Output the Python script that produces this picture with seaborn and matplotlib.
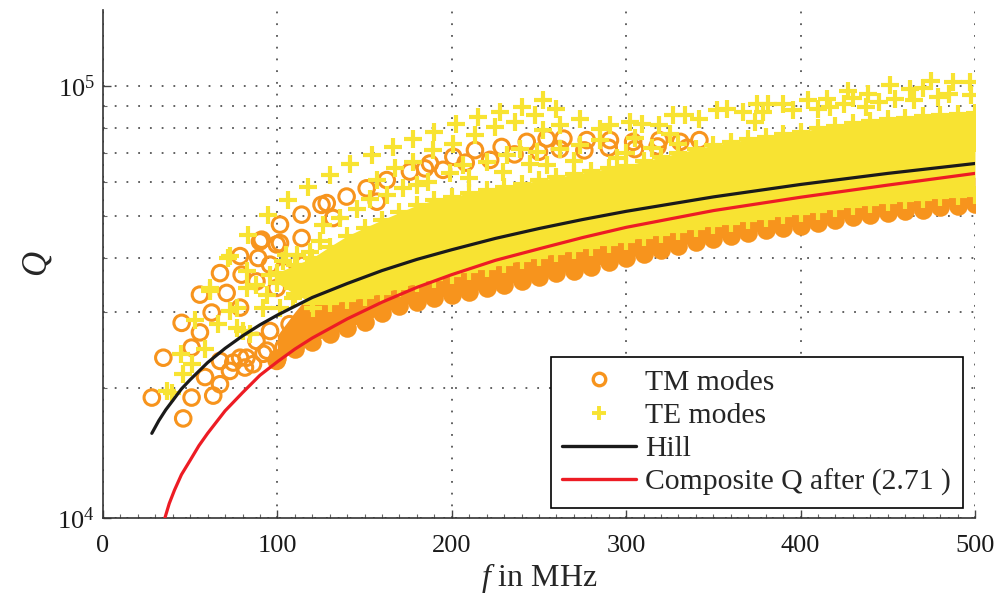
import numpy as np
import pandas as pd
import matplotlib
matplotlib.use("Agg")
import matplotlib.pyplot as plt
import seaborn as sns
from matplotlib.lines import Line2D
from matplotlib.ticker import (LogLocator, MultipleLocator, LogFormatterMathtext,
                               NullFormatter)

# ---------------------------------------------------------------------------
# Reference curves: frequency in MHz, quality factor Q
# ---------------------------------------------------------------------------
hill_f = [28, 32, 36, 40, 45, 50, 60, 70, 80, 90, 100, 120, 140, 160, 180,
          200, 225, 250, 275, 300, 350, 400, 450, 500]
hill_q = [15700, 16800, 17800, 18700, 19900, 20900, 22900, 24700, 26400,
          28000, 29500, 32400, 34900, 37400, 39700, 41800, 44400, 46800,
          49100, 51300, 55400, 59200, 62800, 66200]

comp_f = [35.5, 38, 41, 45, 50, 55, 60, 70, 80, 90, 100, 110, 120, 140, 160,
          180, 200, 225, 250, 275, 300, 350, 400, 450, 500]
comp_q = [10000, 10800, 11600, 12600, 13600, 14700, 15700, 17700, 19500,
          21400, 23000, 24600, 26100, 28900, 31600, 34200, 36600, 39500,
          42000, 44600, 47100, 51500, 55300, 59000, 62800]

# ---------------------------------------------------------------------------
# Mode clouds (Q in thousands)
# ---------------------------------------------------------------------------
# TM modes: the packed band (lowest row of modes and top of the packed region)
tm_band_f = [100, 110, 120, 130, 140, 150, 160, 170, 180, 190, 200, 210, 220,
             230, 240, 250, 260, 270, 280, 290, 300, 310, 320, 330, 340, 350,
             360, 370, 380, 390, 400, 410, 420, 430, 440, 450, 460, 470, 480,
             490, 500]
tm_lo_k = [23.5, 24.6, 25.5, 26.6, 27.6, 28.5, 29.8, 30.9, 31.7, 32.3, 32.9,
           33.4, 34.0, 34.7, 35.4, 36.2, 36.9, 37.4, 38.2, 39.1, 39.9, 40.9,
           41.8, 42.7, 43.5, 44.2, 44.9, 45.8, 46.4, 47.0, 47.5, 48.3, 49.0,
           49.7, 50.2, 50.8, 51.3, 51.8, 52.4, 52.9, 53.3]
tm_hi_k = [26.5, 30.0, 33.5, 34.5, 35.0, 35.5, 36.5, 37.5, 38.5, 39.0, 40.0,
           41.0, 41.5, 42.5, 43.0, 44.0, 45.0, 45.5, 46.5, 47.0, 48.0, 49.0,
           49.5, 50.5, 51.0, 52.0, 53.0, 53.5, 54.0, 55.0, 55.5, 56.0, 57.0,
           57.5, 58.0, 59.0, 59.5, 60.0, 60.5, 61.0, 61.5]

# TM modes: individual modes outside the packed band
tm_f = [28, 34.6, 46, 45.1, 50.8, 50.8, 55.6, 55.6, 62.3, 67.1, 70.9, 58.5,
        63.2, 67.1, 67.1, 78.6, 79.5, 90, 89, 99.6, 72.8, 78.6, 81.4, 86, 94,
        74.7, 82.3, 78.6, 88, 99.6, 95.8, 88, 95.8, 107, 111, 103.4, 99.6, 92,
        103.4, 115, 91, 101.5, 101.5, 113.9, 113.9, 125.3, 128.3, 132, 139.7,
        151.2, 162.7, 157, 176, 184.6, 187.5, 200.9, 213.3, 228.6, 243, 254.4,
        264, 277.4, 290.7, 304, 319, 331, 342,
        195, 208, 222, 236, 250, 262, 276, 290, 305, 318, 335,
        500, 500, 500]
tm_q_k = [19.0, 23.5, 17.0, 28.3, 19.0, 24.8, 26.9, 32.9, 29.9, 36.9, 33.2,
          21.2, 19.2, 20.4, 23.1, 40.4, 36.6, 43.7, 40.0, 43.0, 21.9, 23.5,
          22.3, 22.7, 24.4, 22.9, 23.5, 30.7, 35.3, 34.1, 38.6, 25.7, 27.1,
          28.1, 25.3, 24.8, 23.1, 24.0, 37.3, 38.6, 44.1, 47.8, 43.3, 50.4,
          44.5, 53.1, 53.6, 49.5, 55.5, 58.0, 60.6, 54.0, 63.4, 64.5, 66.2,
          68.6, 71.1, 72.3, 74.3, 75.6, 75.6, 75.0, 75.0, 74.3, 75.0, 74.3,
          75.0,
          64.0, 66.5, 67.5, 69.5, 70.5, 71.5, 71.0, 72.0, 71.5, 72.5, 72.0,
          57.0, 61.0, 65.0]

# TE modes: the packed band (lowest and highest rows of the packed region)
te_band_f = [100, 110, 120, 130, 140, 150, 160, 170, 180, 190, 200, 210, 220,
             230, 240, 250, 260, 270, 280, 290, 300, 310, 320, 330, 340, 350,
             360, 370, 380, 390, 400, 410, 420, 430, 440, 450, 460, 470, 480,
             490, 500]
te_lo_k = [35.0, 33.0, 31.5, 31.4, 31.9, 32.4, 33.2, 34.1, 35.0, 35.8, 36.6,
           37.3, 38.0, 38.7, 39.5, 40.3, 41.0, 41.7, 42.5, 43.2, 43.9, 44.7,
           45.4, 46.2, 46.9, 47.6, 48.3, 49.0, 49.6, 50.2, 50.8, 51.5, 52.2,
           52.8, 53.3, 53.9, 54.4, 54.8, 55.3, 55.7, 56.0]
te_hi_k = [37.0, 38.5, 40.0, 42.5, 45.0, 47.0, 49.0, 51.0, 53.0, 54.5, 55.5,
           56.5, 57.5, 58.5, 59.5, 60.5, 61.5, 62.5, 63.5, 64.5, 65.5, 67.0,
           68.5, 70.0, 71.5, 73.0, 74.2, 75.3, 76.4, 77.5, 78.5, 79.8, 81.0,
           82.0, 83.0, 83.8, 84.5, 85.2, 85.8, 86.3, 86.8]

# TE modes: individual modes outside the packed band
te_f = [39.3, 46, 45, 52.8, 58.5, 61.4, 66, 72.8, 50.8, 72.8, 76.6, 82.4, 88,
        95.8, 103.4, 111, 115, 92, 80.4, 109, 105, 118.7, 82.4, 93.8, 105,
        116.7, 113, 124.4, 101.5, 120.6, 130, 76.6, 84.3, 36.7, 71.9, 61.4,
        83.3, 94.8, 106.3, 117.7, 130, 141.6, 154, 166.5, 178, 178, 157, 167.4,
        126, 136, 145.5, 153, 162.7, 172, 180, 186.6, 199, 206.6, 220, 231.4,
        239, 248.6, 262, 273.5, 285, 210, 229.5, 254.4, 300, 315, 330, 295,
        270, 245, 305, 325,
        190, 189, 202.7, 200.9, 215, 213.3, 227.6, 224.8, 240, 236, 252.5,
        247.7, 260, 262, 273.5, 252.5, 285, 290.7,
        302, 309, 319, 327, 333.7, 342, 351.8, 357.6, 367, 374.8, 381.5,
        378.6, 390, 395.8, 374,
        404.4, 415, 417, 427.4, 438.9, 437.8, 451.3, 454, 462.7, 475, 479,
        487.6, 497, 498, 410, 425, 445, 465, 485, 430, 470,
        500, 500]
te_q_k = [19.5, 21.5, 24.0, 28.8, 24.6, 33.5, 28.1, 40.4, 22.7, 30.1, 27.6,
          34.1, 34.7, 36.6, 39.3, 40.7, 36.6, 30.7, 27.1, 32.3, 35.3, 41.4,
          37.3, 32.9, 40.7, 38.6, 34.1, 43.7, 30.7, 30.7, 36.0, 30.7, 26.6,
          19.7, 40.0, 34.1,
          45.3, 50.4, 54.5, 58.5, 62.2, 66.2, 69.2, 72.3, 75.6, 66.8, 60.6,
          64.5,
          47.8, 49.5, 52.0, 54.9, 56.0, 58.0, 59.0, 60.0, 62.8, 65.6, 66.8,
          69.2, 71.7, 70.4, 71.7, 73.0, 75.0, 61.2, 63.4, 65.6, 70.0, 72.0,
          73.5, 68.0, 67.0, 66.0, 76.0, 77.5,
          78.3, 71.1, 81.9, 73.6, 84.8, 77.0, 87.1, 80.5, 89.5, 82.6, 92.7,
          85.6, 88.7, 81.2, 84.1, 79.0, 79.7, 81.2,
          82.6, 81.9, 81.2, 85.6, 85.6, 84.1, 87.9, 88.7, 87.1, 90.9, 90.9,
          87.1, 91.0, 87.9, 82.6,
          92.7, 93.5, 89.5, 97.7, 96.0, 89.5, 100.4, 93.5, 98.6, 103.0, 94.4,
          102.0, 102.0, 95.2, 88.5, 91.0, 92.0, 93.0, 96.0, 94.0, 99.0,
          74.0, 80.0]

ORANGE = "#F7941D"
YELLOW = "#F8E332"
RED = "#ED1C24"
BLACK = "#1A1A1A"

# ---------------------------------------------------------------------------
sns.set_style("ticks")
plt.rcParams["font.family"] = ["Liberation Serif", "DejaVu Serif"]
plt.rcParams["mathtext.fontset"] = "custom"
plt.rcParams["mathtext.rm"] = "Liberation Serif"
plt.rcParams["mathtext.it"] = "Liberation Serif:italic"

K = 1000.0
tm_ring_df = pd.DataFrame({"f": tm_f, "Q": [q * K for q in tm_q_k]})
tm_row_df = pd.DataFrame({"f": tm_band_f, "Q": [q * K for q in tm_lo_k]})
te_df = pd.DataFrame({
    "f": te_f + te_band_f + te_band_f,
    "Q": [q * K for q in te_q_k + te_lo_k + te_hi_k],
})

fig = plt.figure(figsize=(9.97, 5.96), dpi=100)
ax = fig.add_axes([0.1033, 0.131, 0.8746, 0.852])
ax.set_yscale("log")

CIRCLE_S = 125
PLUS_S = 165

# TM modes: packed band (overlapping rings read as solid), then single rings
ax.fill_between(tm_band_f, [q * K for q in tm_lo_k], [q * K for q in tm_hi_k],
                color=ORANGE, lw=0, zorder=2.0)
sns.scatterplot(data=tm_row_df, x="f", y="Q", marker="o", s=CIRCLE_S,
                color=ORANGE, edgecolor=ORANGE, linewidth=2.2, ax=ax,
                zorder=2.05, legend=False)
sns.scatterplot(data=tm_ring_df, x="f", y="Q", marker="o", s=CIRCLE_S,
                facecolor="none", edgecolor=ORANGE, color=ORANGE,
                linewidth=2.2, ax=ax, zorder=2.1, legend=False)

# TE modes drawn over the TM modes
ax.fill_between(te_band_f, [q * K for q in te_lo_k], [q * K for q in te_hi_k],
                color=YELLOW, lw=0, zorder=3.0)
sns.scatterplot(data=te_df, x="f", y="Q", marker="+", s=PLUS_S, color=YELLOW,
                linewidth=3.0, ax=ax, zorder=3.1, legend=False)

# Analytical curves
sns.lineplot(x=hill_f, y=hill_q, color=BLACK, lw=2.3, ax=ax, zorder=4)
sns.lineplot(x=comp_f, y=comp_q, color=RED, lw=2.3, ax=ax, zorder=4)

# Axes
ax.set_xlim(0, 500)
ax.set_ylim(1e4, 1.5e5)
ax.set_xticks([0, 100, 200, 300, 400, 500])
ax.xaxis.set_minor_locator(MultipleLocator(10))
ax.yaxis.set_major_locator(LogLocator(base=10))
ax.yaxis.set_major_formatter(LogFormatterMathtext())
ax.yaxis.set_minor_locator(LogLocator(base=10, subs=np.arange(2, 10)))
ax.yaxis.set_minor_formatter(NullFormatter())

ax.tick_params(which="major", direction="in", length=6, width=1.0,
               color="#444444", labelsize=19, labelcolor="#1a1a1a")
ax.tick_params(axis="x", which="major", pad=12)
ax.tick_params(axis="y", which="major", pad=6)
ax.tick_params(which="minor", direction="in", length=3, width=0.8,
               color="#666666")

grid_kw = dict(ls=(0, (1, 5.5)), lw=1.3, color="#555555")
ax.grid(True, which="major", axis="x", **grid_kw)
ax.grid(True, which="both", axis="y", **grid_kw)
ax.set_axisbelow(True)

sns.despine(ax=ax)
for side in ("left", "bottom"):
    ax.spines[side].set_color("#333333")
    ax.spines[side].set_linewidth(1.2)

ax.set_xlabel("$f$ in MHz", fontsize=23, labelpad=3)
ax.set_ylabel("$Q$", fontsize=25, labelpad=2)

handles = [
    Line2D([], [], ls="none", marker="o", ms=9, mfc="none", mec=ORANGE,
           mew=2.4, label="TM modes"),
    Line2D([], [], ls="none", marker="+", ms=10, mec=YELLOW, mew=2.8,
           label="TE modes"),
    Line2D([], [], color=BLACK, lw=2.4, label="Hill"),
    Line2D([], [], color=RED, lw=2.4, label="Composite Q after (2.71 )"),
]
leg = ax.legend(handles=handles, loc="lower right",
                bbox_to_anchor=(0.986, 0.02), borderaxespad=0, frameon=True,
                fancybox=False, edgecolor="black", framealpha=1,
                fontsize=21.3, handlelength=2.5, handletextpad=0.3,
                labelspacing=0.22, borderpad=0.4)
leg.get_frame().set_linewidth(1.2)
leg.set_zorder(10)

fig.savefig("out.png", dpi=100)
